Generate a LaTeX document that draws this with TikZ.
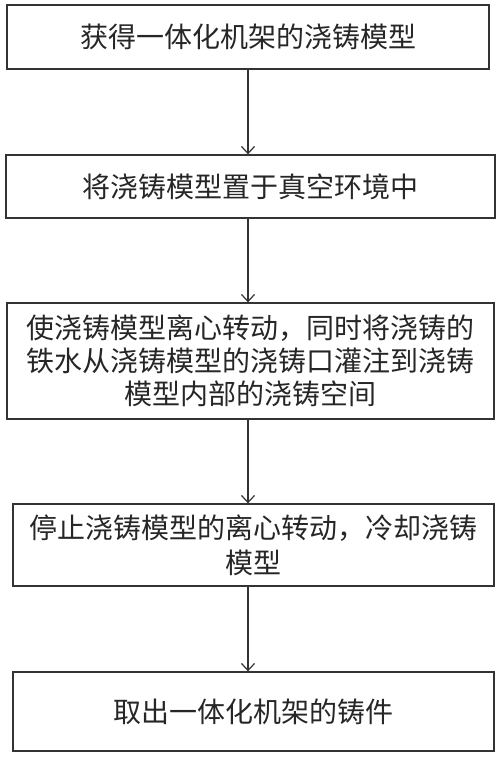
\documentclass[tikz,border=0pt]{standalone}
\usepackage{fontspec}
\newfontfamily\cjk{Noto Sans CJK SC}
\usetikzlibrary{arrows.meta}
\definecolor{ln}{HTML}{333333}
\tikzset{
  stepbox/.style={draw=ln, line width=1.3pt, align=center, inner sep=0pt,
    font=\cjk\fontsize{28}{33}\selectfont, text=black!85},
  arr/.style={draw=ln, line width=1.2pt, -{Straight Barb[length=7pt,width=13pt,line width=1.2pt]}}
}
\begin{document}
\begin{tikzpicture}[x=1pt,y=-1pt]
\useasboundingbox (0,0) rectangle (500,758);
\node[stepbox, minimum width=482pt, minimum height=64pt] (b1) at (248,37) {获得一体化机架的浇铸模型};
\node[stepbox, minimum width=489pt, minimum height=63pt] (b2) at (250.5,186.5) {将浇铸模型置于真空环境中};
\node[stepbox, minimum width=487pt, minimum height=116pt] (b3) at (250.5,361) {使浇铸模型离心转动，同时将浇铸的\\铁水从浇铸模型的浇铸口灌注到浇铸\\模型内部的浇铸空间};
\node[stepbox, minimum width=481pt, minimum height=82pt] (b4) at (253.5,545) {停止浇铸模型的离心转动，冷却浇铸\\[2pt]模型};
\node[stepbox, minimum width=481pt, minimum height=79pt] (b5) at (253.5,711.5) {取出一体化机架的铸件};
\coordinate (ax) at (248,0);
\draw[arr] (b1.south -| ax) -- (b2.north -| ax);
\draw[arr] (b2.south -| ax) -- (b3.north -| ax);
\draw[arr] (b3.south -| ax) -- (b4.north -| ax);
\draw[arr] (b4.south -| ax) -- (b5.north -| ax);
\end{tikzpicture}
\end{document}
